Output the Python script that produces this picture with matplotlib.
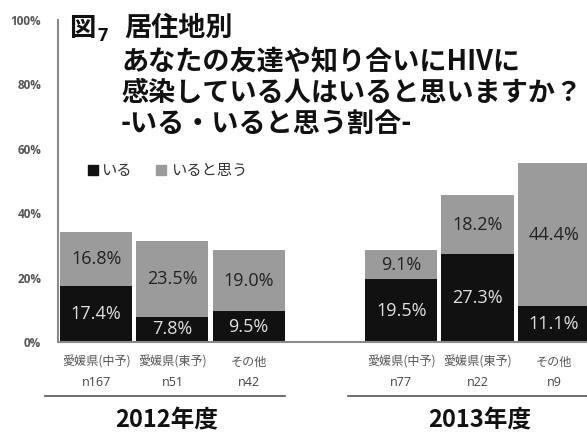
import matplotlib
matplotlib.use("Agg")
import matplotlib.pyplot as plt
from matplotlib.patches import Rectangle
from matplotlib.lines import Line2D

plt.rcParams['font.family'] = ['Noto Sans CJK JP', 'DejaVu Sans']

# ---- data ----
categories = ['愛媛県(中予)', '愛媛県(東予)', 'その他', '愛媛県(中予)', '愛媛県(東予)', 'その他']
n_labels = ['n167', 'n51', 'n42', 'n77', 'n22', 'n9']
iru = [17.4, 7.8, 9.5, 19.5, 27.3, 11.1]              # いる
iru_to_omou = [16.8, 23.5, 19.0, 9.1, 18.2, 44.4]     # いると思う
years = ['2012年度', '2013年度']
series_names = ['いる', 'いると思う']
yticks = [0, 20, 40, 60, 80, 100]

positions = [0, 1, 2, 4, 5, 6]

BLACK = '#111111'
GRAY = '#9b9b9b'

fig = plt.figure(figsize=(5.87, 4.34), dpi=100)
W, H = 587, 434
ax = fig.add_axes([58 / W, 92 / H, (W - 58) / W, 322 / H])

bw = 0.945
ax.bar(positions, iru, width=bw, color=BLACK, zorder=2)
ax.bar(positions, iru_to_omou, width=bw, bottom=iru, color=GRAY, zorder=2)

num_font = ['Open Sans', 'DejaVu Sans']
for x, a, b in zip(positions, iru, iru_to_omou):
    ax.text(x, a / 2, f'{a:.1f}%', ha='center', va='center', fontsize=13,
            color='#e0e0e0', family=num_font, zorder=3)
    ax.text(x, a + b / 2, f'{b:.1f}%', ha='center', va='center', fontsize=13,
            color='#222222', family=num_font, zorder=3)

ax.set_xlim(-0.5, 6.435)
ax.set_ylim(0, 100)
ax.set_yticks(yticks)
ax.set_yticklabels([f'{t}%' for t in yticks], fontsize=8.5, color='#555555',
                   fontweight='bold', family=num_font)
ax.tick_params(axis='y', length=0, pad=12)
ax.set_xticks([])
for s in ['top', 'right']:
    ax.spines[s].set_visible(False)
ax.spines['left'].set_color('#8a8a8a')
ax.spines['left'].set_linewidth(1.5)
ax.spines['bottom'].set_color('#8a8a8a')
ax.spines['bottom'].set_linewidth(1.5)

tr = ax.get_xaxis_transform()
for x, c, n in zip(positions, categories, n_labels):
    ax.text(x, -0.062, c, transform=tr, ha='center', va='center',
            fontsize=8.7, color='#555555')
    ax.text(x, -0.127, n, transform=tr, ha='center', va='center',
            fontsize=9, color='#444444', family=num_font)

# group separator lines and year labels
ax.add_line(Line2D([-0.67, 2.48], [-0.168, -0.168], transform=tr, color='#555555',
                   lw=1.2, clip_on=False))
ax.add_line(Line2D([3.30, 6.6], [-0.168, -0.168], transform=tr, color='#555555',
                   lw=1.2, clip_on=False))
ax.text(0.92, -0.245, years[0], transform=tr, ha='center', va='center',
        fontsize=17, fontweight='bold', color='#111111')
ax.text(5.03, -0.245, years[1], transform=tr, ha='center', va='center',
        fontsize=17, fontweight='bold', color='#111111')

# title
tcol = '#111111'
fig.text(69 / W, 1 - 28 / H, '図', fontsize=19, fontweight='bold', color=tcol,
         ha='left', va='center')
fig.text(97 / W, 1 - 36 / H, '7', fontsize=13, fontweight='bold', color=tcol,
         ha='left', va='center', family=num_font)
fig.text(124 / W, 1 - 28 / H, '居住地別', fontsize=19.5, fontweight='bold', color=tcol,
         ha='left', va='center')
title_lines = ['あなたの友達や知り合いにHIVに',
               '感染している人はいると思いますか？',
               '-いる・いると思う割合-']
for i, line in enumerate(title_lines):
    fig.text(121 / W, 1 - (62 + 31 * i) / H, line, fontsize=19.5, fontweight='bold',
             color=tcol, ha='left', va='center')

# legend
fig.add_artist(Rectangle((88 / W, 1 - 175 / H), 10 / W, 10 / H,
                         transform=fig.transFigure, color=BLACK))
fig.text(101 / W, 1 - 170 / H, series_names[0], fontsize=11, color='#333333',
         ha='left', va='center')
fig.add_artist(Rectangle((156 / W, 1 - 175 / H), 10 / W, 10 / H,
                         transform=fig.transFigure, color=GRAY))
fig.text(171 / W, 1 - 170 / H, series_names[1], fontsize=11, color='#333333',
         ha='left', va='center')

fig.savefig('out.png', dpi=100)
